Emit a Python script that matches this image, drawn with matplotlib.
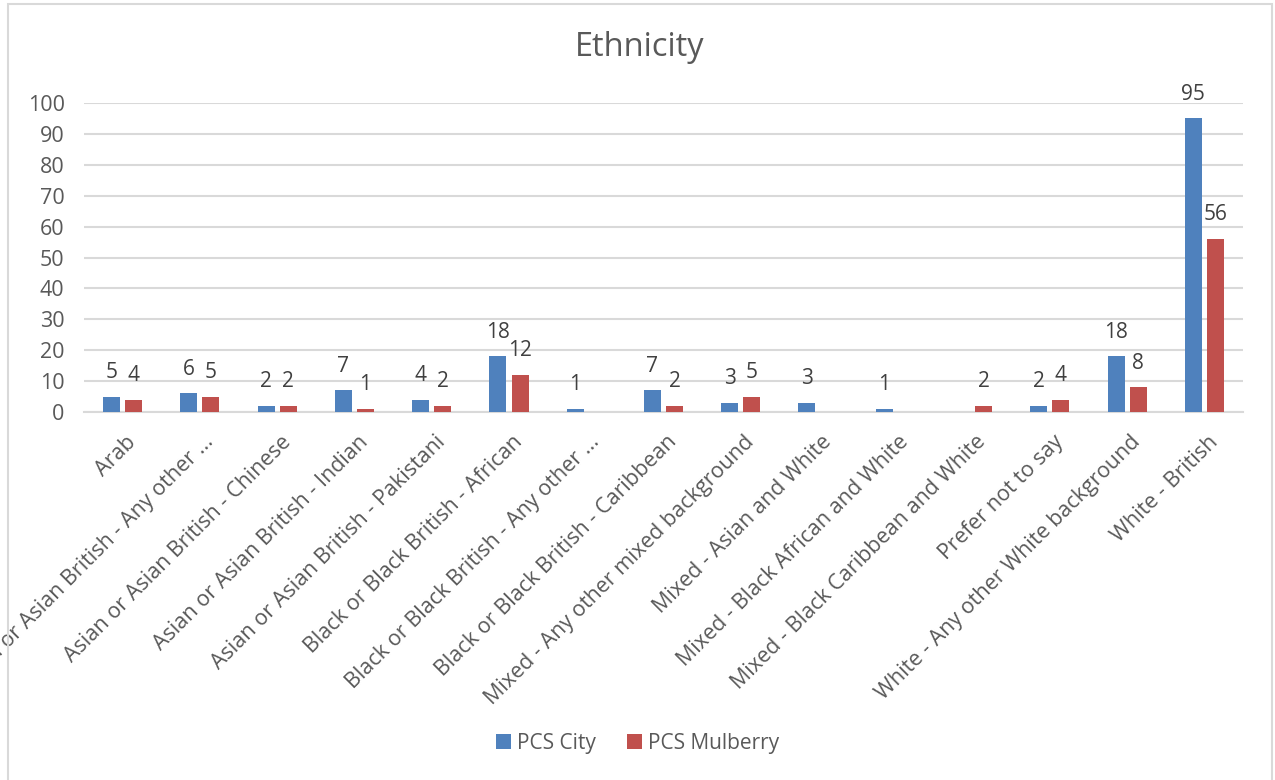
import matplotlib
matplotlib.use("Agg")
import matplotlib.pyplot as plt
import numpy as np
from matplotlib.patches import Rectangle

plt.rcParams['font.family'] = ['Open Sans', 'DejaVu Sans']

categories = ["Arab",
              "Asian or Asian British - Any other ...",
              "Asian or Asian British - Chinese",
              "Asian or Asian British - Indian",
              "Asian or Asian British - Pakistani",
              "Black or Black British - African",
              "Black or Black British - Any other ...",
              "Black or Black British - Caribbean",
              "Mixed - Any other mixed background",
              "Mixed - Asian and White",
              "Mixed - Black African and White",
              "Mixed - Black Caribbean and White",
              "Prefer not to say",
              "White - Any other White background",
              "White - British"]
pcs_city = [5, 6, 2, 7, 4, 18, 1, 7, 3, 3, 1, 0, 2, 18, 95]
pcs_mulberry = [4, 5, 2, 1, 2, 12, 0, 2, 5, 0, 0, 2, 4, 8, 56]

blue = '#4F81BD'
red = '#C0504D'
txt = '#595959'

fig = plt.figure(figsize=(12.75, 7.8), dpi=100)
ax = fig.add_axes([84/1275, 1-412/780, (1243-84)/1275, (412-103)/780])

# outer chart frame like excel
fig.patches.append(Rectangle((8/1275, -0.01), (1272-8)/1275, 1-4/780+0.01,
                             transform=fig.transFigure, fill=False,
                             edgecolor='#D9D9D9', linewidth=1.5))

x = np.arange(len(categories))
w = 0.22
off = 0.143
b1 = ax.bar(x - off, pcs_city, w, color=blue, label='PCS City', zorder=3)
b2 = ax.bar(x + off, pcs_mulberry, w, color=red, label='PCS Mulberry', zorder=3)

for bars, vals in ((b1, pcs_city), (b2, pcs_mulberry)):
    for r, v in zip(bars, vals):
        if v == 0:
            continue
        ax.annotate(str(v), (r.get_x() + r.get_width()/2, v),
                    xytext=(0, 13.5), textcoords='offset points',
                    ha='center', va='baseline', fontsize=15,
                    color='#404040', annotation_clip=False)

ax.set_xlim(-0.5, len(categories) - 0.5)
ax.set_ylim(0, 100)
ax.set_yticks(range(0, 101, 10))
ax.yaxis.grid(True, color='#D9D9D9', linewidth=1.5, zorder=0)
for s in ['top', 'right', 'left']:
    ax.spines[s].set_visible(False)
ax.spines['bottom'].set_color('#D9D9D9')
ax.spines['bottom'].set_linewidth(1.5)
ax.tick_params(axis='both', length=0, labelsize=15.5, colors=txt)
ax.tick_params(axis='y', pad=14)

ax.set_xticks(x + 0.04)
ax.set_xticklabels(categories, rotation=45, ha='right', va='top',
                   rotation_mode='anchor')
ax.tick_params(axis='x', pad=14)

fig.text(0.502, 1-48/780, 'Ethnicity', ha='center', va='center',
         fontsize=23.5, color=txt)

fig.legend(handles=[b1, b2], loc='center', bbox_to_anchor=(0.5, 1-743/780),
           ncol=2, frameon=False, fontsize=15, labelcolor=txt,
           handlelength=0.7, handleheight=0.7, handletextpad=0.3,
           columnspacing=1.5)

fig.savefig('out.png', dpi=100)
